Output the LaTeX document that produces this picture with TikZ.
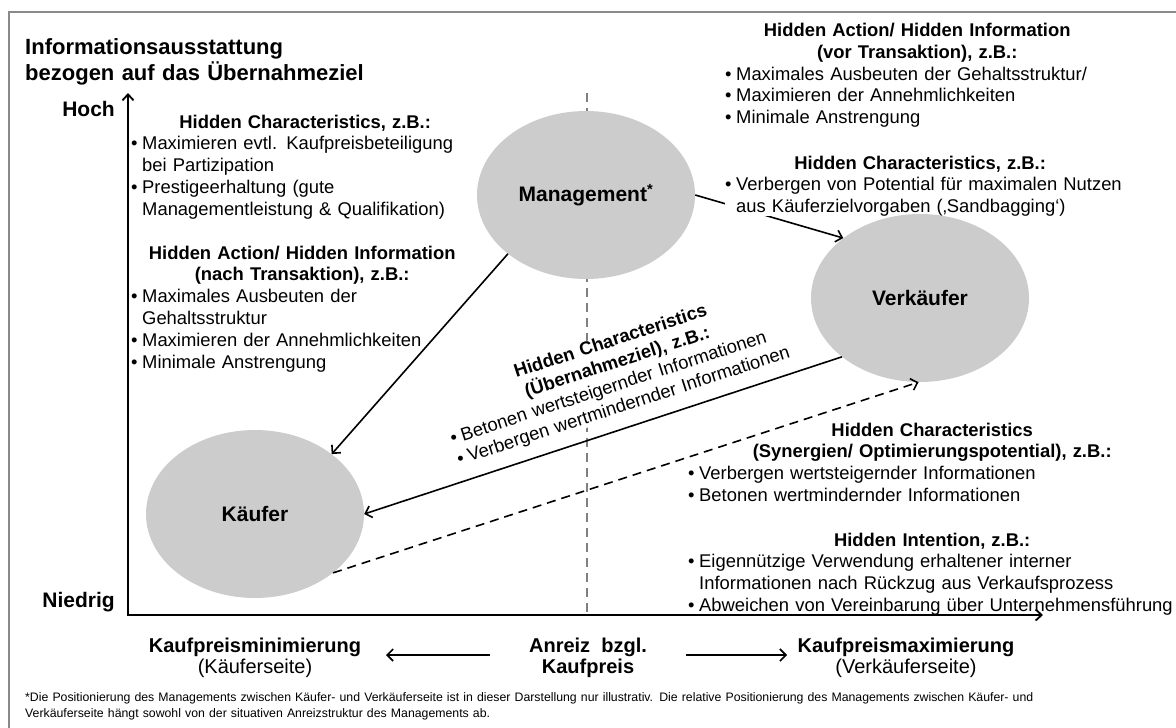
\documentclass[tikz,border=0pt]{standalone}
\usepackage{fontspec}
\setmainfont{Liberation Sans}
\usetikzlibrary{arrows.meta,shapes.geometric}
\pgfdeclarelayer{under}
\pgfdeclarelayer{cover}
\pgfsetlayers{under,cover,main}
\definecolor{ellgray}{RGB}{204,204,204}
\definecolor{framegray}{RGB}{138,138,138}
\definecolor{midgray}{RGB}{128,128,128}
% bullet, hanging indent and centred heading used in the text blocks
\newcommand\itembul{\makebox[11pt][l]{•}}
\newcommand\itemgap{\hspace*{11pt}}
\newcommand\blockhead[2][\linewidth]{\makebox[#1]{\bfseries #2}\\}
\begin{document}
\begin{tikzpicture}[x=1pt,y=-1pt,
  every node/.style={inner sep=0pt},
  actor/.style={ellipse, fill=ellgray, minimum width=218pt, minimum height=168pt,
    font=\bfseries\fontsize{21}{25}\selectfont},
  txtblock/.style={anchor=base west, align=left, font=\fontsize{18.4}{21.8}\selectfont},
  lbl/.style={anchor=base, font=\fontsize{20}{24}\selectfont},
  lblbold/.style={lbl, font=\bfseries\fontsize{20}{24}\selectfont},
  level/.style={anchor=base east, font=\bfseries\fontsize{21}{25}\selectfont},
  barb/.style={-{Straight Barb[length=6pt,width=12pt]}},
  flow/.style={barb, line width=1.6pt},
  dashflow/.style={flow, dash pattern=on 9pt off 6pt},
  axis/.style={line width=1.8pt, {Straight Barb[length=6pt,width=11pt]}-{Straight Barb[length=6pt,width=11pt]}},
  midline/.style={midgray, line width=1.8pt, dash pattern=on 9pt off 6pt},
  frame/.style={framegray, line width=2pt}
]
\useasboundingbox (0,0) rectangle (1176,728);

% outer frame
\coordinate (frTR) at (1176,12);
\coordinate (frTL) at (9,12);
\coordinate (frBL) at (9,728);
\draw[frame] (frTR) -- (frTL) -- (frBL);

% axes
\coordinate (origin) at (128,615);
\coordinate (ytip) at (128,93);
\coordinate (xtip) at (1043,615);
\draw[axis] (ytip) -- (origin) -- (xtip);

% dashed middle line
\coordinate (midtop) at (587,93);
\coordinate (midbot) at (587,615);
\begin{pgfonlayer}{under}
\draw[midline] (midtop) -- (midbot);
\end{pgfonlayer}

% parties
\node[actor] (man) at (586,195) {Management\textsuperscript{*}};
\node[actor] (ver) at (920,298) {Verkäufer};
\node[actor] (kae) at (255,514) {Käufer};

% axis title and levels
\node[txtblock, text width=430pt, font=\bfseries\fontsize{22}{26.5}\selectfont] (title) at (25,54)
  {Informationsausstattung\\bezogen auf das Übernahmeziel};
\node[level] (hoch) at (115,116) {Hoch};
\node[level] (niedrig) at (115,607) {Niedrig};

% management, left side
\node[txtblock, text width=348pt] (hcA) at (131,128) {%
  \blockhead{Hidden Characteristics, z.B.:}
  \itembul Maximieren evtl. Kaufpreisbeteiligung\\
  \itemgap bei Partizipation\\
  \itembul Prestigeerhaltung (gute\\
  \itemgap Managementleistung \& Qualifikation)};
\node[txtblock, text width=342pt] (haB) at (131,259) {%
  \blockhead{Hidden Action/ Hidden Information}
  \blockhead{(nach Transaktion), z.B.:}
  \itembul Maximales Ausbeuten der\\
  \itemgap Gehaltsstruktur\\
  \itembul Maximieren der Annehmlichkeiten\\
  \itembul Minimale Anstrengung};

% management, right side
\node[txtblock, text width=384pt] (haC) at (725,36.5) {%
  \blockhead{Hidden Action/ Hidden Information}
  \blockhead{(vor Transaktion), z.B.:}
  \itembul Maximales Ausbeuten der Gehaltsstruktur/\\
  \itembul Maximieren der Annehmlichkeiten\\
  \itembul Minimale Anstrengung};

% connector partly hidden behind the text block
\begin{pgfonlayer}{under}
\draw[flow] (man.0) -- (ver.142);
\end{pgfonlayer}
\begin{pgfonlayer}{cover}
\node[txtblock, text width=420pt, fill=white] (hcD) at (725,169) {%
  \blockhead[390pt]{Hidden Characteristics, z.B.:}
  \itembul Verbergen von Potential für maximalen Nutzen\\
  \itemgap aus Käuferzielvorgaben (‚Sandbagging‘)};
\node[txtblock, text width=364pt, fill=white, rotate=18] (hcM) at (439,403) {%
  \blockhead{Hidden Characteristics}
  \blockhead{(Übernahmeziel), z.B.:}
  \itembul Betonen wertsteigernder Informationen\\
  \itembul Verbergen wertmindernder Informationen};
\end{pgfonlayer}

% seller side
\node[txtblock, text width=488pt] (hcE) at (688,436) {%
  \blockhead{Hidden Characteristics}
  \blockhead{(Synergien/ Optimierungspotential), z.B.:}
  \itembul Verbergen wertsteigernder Informationen\\
  \itembul Betonen wertmindernder Informationen};
\node[txtblock, text width=488pt] (hiF) at (688,546) {%
  \blockhead{Hidden Intention, z.B.:}
  \itembul Eigennützige Verwendung erhaltener interner\\
  \itemgap Informationen nach Rückzug aus Verkaufsprozess\\
  \itembul Abweichen von Vereinbarung über Unternehmensführung};

% connectors between the parties
\draw[flow] (man.217) -- (kae.38);
\draw[flow] (ver.217) -- (kae.0);
\draw[dashflow] (kae.323) -- (ver.269);

% price incentive
\node[lblbold] (kmin) at (255,652) {Kaufpreisminimierung};
\node[lbl] (kseite) at (255,673) {(Käuferseite)};
\node[lblbold] (anreiz) at (588,652) {Anreiz~~bzgl.};
\node[lblbold] (kpreis) at (588,673) {Kaufpreis};
\node[lblbold] (kmax) at (906,652) {Kaufpreismaximierung};
\node[lbl] (vseite) at (906,673) {(Verkäuferseite)};
\coordinate (lfrom) at (490,655);
\coordinate (lto) at (386,655);
\coordinate (rfrom) at (686,655);
\coordinate (rto) at (787,655);
\draw[flow] (lfrom) -- (lto);
\draw[flow] (rfrom) -- (rto);

% footnote
\node[txtblock, text width=1140pt, font=\fontsize{12.3}{16}\selectfont] (note) at (25,701) {%
  *Die Positionierung des Managements zwischen Käufer- und Verkäuferseite ist in dieser Darstellung nur illustrativ. Die relative Positionierung des Managements zwischen Käufer- und\\
  Verkäuferseite hängt sowohl von der situativen Anreizstruktur des Managements ab.};
\end{tikzpicture}
\end{document}
